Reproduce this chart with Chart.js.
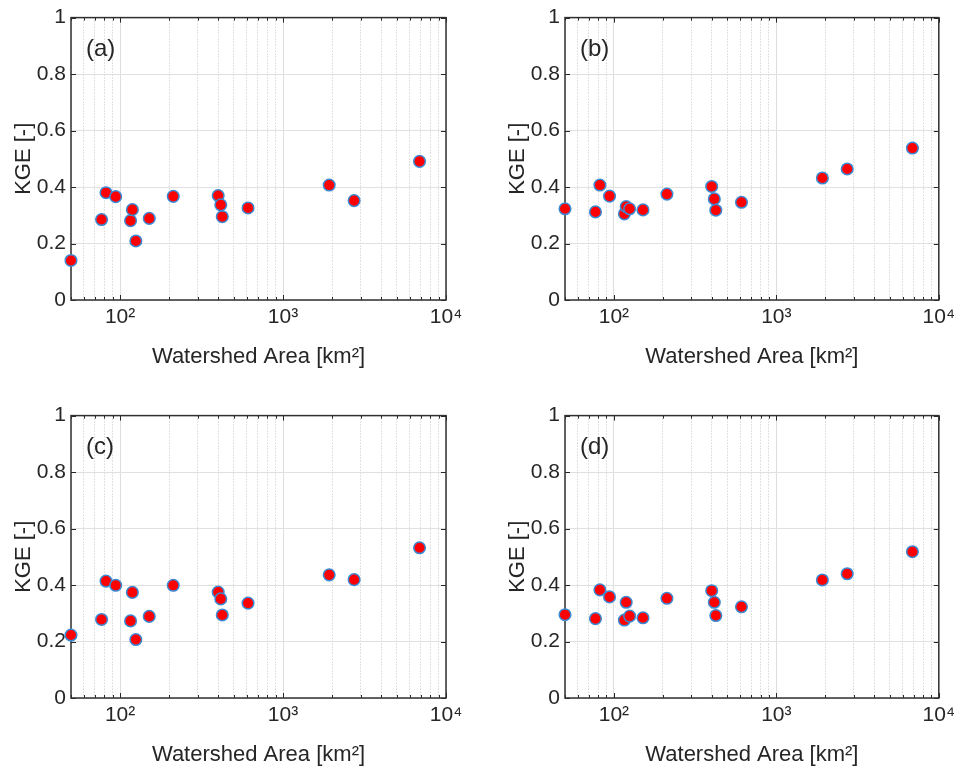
<!DOCTYPE html>
<html>
<head>
<meta charset="utf-8">
<script src="https://cdn.jsdelivr.net/npm/chart.js@4.4.1/dist/chart.umd.min.js"></script>
<style>
  html, body { margin: 0; padding: 0; background: #ffffff; }
  body { width: 960px; height: 769px; position: relative; overflow: hidden; }
  canvas { position: absolute; }
</style>
</head>
<body>
<canvas id="pa" width="480" height="370" style="left:0px;top:0px"></canvas>
<canvas id="pb" width="466" height="370" style="left:494px;top:0px"></canvas>
<canvas id="pc" width="480" height="370" style="left:0px;top:398px"></canvas>
<canvas id="pd" width="466" height="370" style="left:494px;top:398px"></canvas>
<script>
// ---- data ----
const areas = [50, 77, 82, 94, 116, 119, 125, 151, 212, 400, 415, 424, 610, 1920, 2730, 6880];
const kgeA = [0.140, 0.285, 0.380, 0.366, 0.281, 0.320, 0.209, 0.289, 0.367, 0.370, 0.337, 0.295, 0.326, 0.407, 0.352, 0.491];
const kgeB = [0.323, 0.312, 0.407, 0.368, 0.305, 0.331, 0.323, 0.319, 0.375, 0.402, 0.358, 0.318, 0.346, 0.432, 0.464, 0.538];
const kgeC = [0.223, 0.278, 0.414, 0.399, 0.273, 0.374, 0.207, 0.289, 0.399, 0.375, 0.351, 0.294, 0.336, 0.436, 0.419, 0.532];
const kgeD = [0.295, 0.281, 0.383, 0.358, 0.276, 0.339, 0.290, 0.284, 0.353, 0.380, 0.339, 0.292, 0.323, 0.418, 0.440, 0.518];
const panelLabels = ['(a)', '(b)', '(c)', '(d)'];
const xTickLabels = {100: '10\u00B2', 1000: '10\u00B3', 10000: '10\u2074'};
const yTickLabels = {0: '0', 0.2: '0.2', 0.4: '0.4', 0.6: '0.6', 0.8: '0.8', 1: '1'};
const xGridValues = [50, 60, 70, 80, 90, 100, 200, 300, 400, 500, 600, 700, 800, 900,
                     1000, 2000, 3000, 4000, 5000, 6000, 7000, 8000, 9000, 10000];
const xTitle = 'Watershed Area [km\u00B2]';
const yTitle = 'KGE [-]';

const TXT = '#262626';
const FONT = '"Liberation Sans", Arial, Helvetica, sans-serif';
const isMajorX = v => Math.abs(Math.log10(v) - Math.round(Math.log10(v))) < 1e-9;

const boxPlugin = {
  id: 'matlabBox',
  beforeDatasetsDraw(chart, args, opts) {
    const {ctx, chartArea: a, scales: {x, y}} = chart;
    ctx.save();
    ctx.strokeStyle = TXT;
    ctx.lineWidth = 1;
    ctx.beginPath();
    x.ticks.forEach(t => {
      const px = Math.round(x.getPixelForValue(t.value)) + 0.5;
      const L = isMajorX(t.value) ? 5 : 3;
      ctx.moveTo(px, a.bottom); ctx.lineTo(px, a.bottom - L);
      ctx.moveTo(px, a.top); ctx.lineTo(px, a.top + L);
    });
    y.ticks.forEach(t => {
      const py = Math.round(y.getPixelForValue(t.value)) + 0.5;
      ctx.moveTo(a.left, py); ctx.lineTo(a.left + 5, py);
      ctx.moveTo(a.right, py); ctx.lineTo(a.right - 5, py);
    });
    ctx.stroke();
    ctx.lineWidth = 1.5;
    ctx.strokeStyle = '#303030';
    ctx.strokeRect(a.left, a.top, a.right - a.left, a.bottom - a.top);
    ctx.fillStyle = TXT;
    ctx.font = '24px ' + FONT;
    ctx.textBaseline = 'middle';
    ctx.textAlign = 'left';
    ctx.fillText(opts.label, a.left + 15, a.top + 32);
    ctx.restore();
  }
};

function makePanel(id, values, label) {
  const canvas = document.getElementById(id);
  const rightPad = canvas.width - 71 - 375;
  return new Chart(canvas, {
    type: 'scatter',
    data: {
      datasets: [{
        data: areas.map((a, i) => ({x: a, y: values[i]})),
        backgroundColor: '#ff0000',
        borderColor: '#3a8ad4',
        borderWidth: 1.5,
        pointRadius: 5.8,
        pointHoverRadius: 5.8,
        clip: false
      }]
    },
    options: {
      responsive: false,
      animation: false,
      devicePixelRatio: 1,
      layout: { padding: { left: 0, right: rightPad, top: 15, bottom: 0 } },
      plugins: {
        legend: { display: false },
        tooltip: { enabled: false },
        matlabBox: { label: label }
      },
      scales: {
        x: {
          type: 'logarithmic',
          min: 50,
          max: 10000,
          afterBuildTicks: s => {
            s.ticks = xGridValues.map(v => ({value: v, major: isMajorX(v)}));
          },
          afterFit: s => { s.height = 70; },
          ticks: {
            autoSkip: false,
            maxRotation: 0,
            padding: 5,
            color: TXT,
            font: { family: FONT, size: 21 },
            callback: v => xTickLabels[v] || ''
          },
          grid: {
            drawTicks: false,
            lineWidth: 1,
            color: c => (c.tick && isMajorX(c.tick.value)) ? '#dedede' : '#c4c4c4'
          },
          border: {
            display: false,
            dash: c => (c.tick && !isMajorX(c.tick.value)) ? [1, 2] : []
          },
          title: {
            display: true,
            text: xTitle,
            color: TXT,
            font: { family: FONT, size: 22 },
            padding: { top: 0, bottom: 0 }
          }
        },
        y: {
          min: 0,
          max: 1,
          afterFit: s => { s.width = 71; },
          ticks: {
            stepSize: 0.2,
            padding: 5,
            color: TXT,
            font: { family: FONT, size: 21 },
            callback: v => {
              const k = Math.round(v * 10) / 10;
              return yTickLabels[k] !== undefined ? yTickLabels[k] : '';
            }
          },
          grid: {
            drawTicks: false,
            lineWidth: 1,
            color: '#e0e0e0'
          },
          border: { display: false },
          title: {
            display: true,
            text: yTitle,
            color: TXT,
            font: { family: FONT, size: 22 },
            padding: { top: 11, bottom: 0 }
          }
        }
      }
    },
    plugins: [boxPlugin]
  });
}

makePanel('pa', kgeA, panelLabels[0]);
makePanel('pb', kgeB, panelLabels[1]);
makePanel('pc', kgeC, panelLabels[2]);
makePanel('pd', kgeD, panelLabels[3]);
</script>
</body>
</html>
